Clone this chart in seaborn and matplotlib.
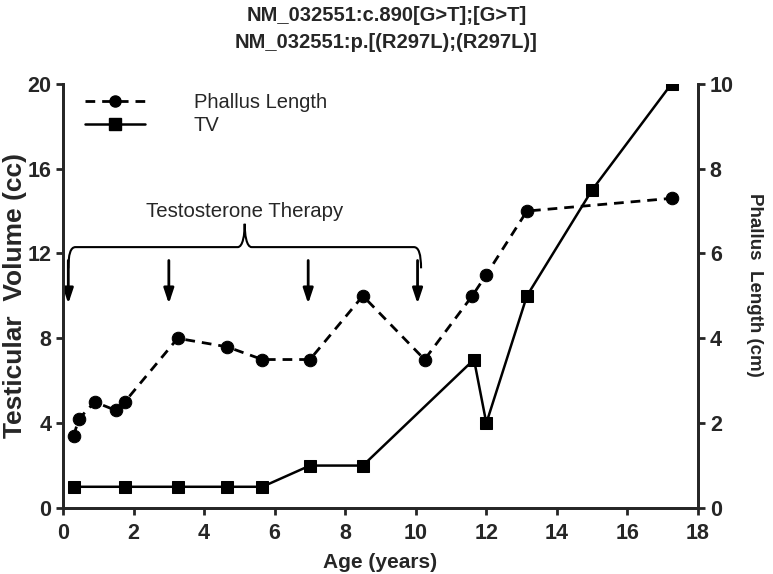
import matplotlib
matplotlib.use("Agg")
import matplotlib.pyplot as plt
import seaborn as sns
import pandas as pd
from matplotlib.path import Path
from matplotlib.patches import PathPatch
from matplotlib.lines import Line2D

# ------------------------------------------------------
# Data
# ------------------------------------------------------
phallus_age = [0.3, 0.45, 0.9, 1.5, 1.75, 3.25, 4.65, 5.65, 7.0, 8.5, 10.25, 11.6, 12.0, 13.15, 17.25]
phallus_cm = [1.7, 2.1, 2.5, 2.3, 2.5, 4.0, 3.8, 3.5, 3.5, 5.0, 3.5, 5.0, 5.5, 7.0, 7.3]

tv_age = [0.3, 1.75, 3.25, 4.65, 5.65, 7.0, 8.5, 11.65, 12.0, 13.15, 15.0, 17.25]
tv_cc = [1, 1, 1, 1, 1, 2, 2, 7, 4, 10, 15, 20]

therapy_ages = [0.15, 3.0, 6.95, 10.05]

title_lines = ["NM_032551:c.890[G>T];[G>T]", "NM_032551:p.[(R297L);(R297L)]"]

df_ph = pd.DataFrame({"age": phallus_age, "cm": phallus_cm})
df_tv = pd.DataFrame({"age": tv_age, "cc": tv_cc})

# ------------------------------------------------------
# Style
# ------------------------------------------------------
sns.set_style("ticks")
plt.rcParams["font.family"] = ["Liberation Sans", "DejaVu Sans"]
plt.rcParams["axes.linewidth"] = 2
plt.rcParams["xtick.major.width"] = 2
plt.rcParams["ytick.major.width"] = 2
plt.rcParams["xtick.major.size"] = 5
plt.rcParams["ytick.major.size"] = 5

fig = plt.figure(figsize=(7.73, 5.74), dpi=100)
ax = fig.add_axes([0.0815, 0.115, 0.8215, 0.739])
ax2 = ax.twinx()

# TV (left axis, solid squares)
sns.lineplot(data=df_tv, x="age", y="cc", ax=ax, color="black", marker="s",
             markersize=8.5, linewidth=1.8, markeredgecolor="black")
# Phallus length (right axis, dashed circles)
sns.lineplot(data=df_ph, x="age", y="cm", ax=ax2, color="black", marker="o",
             markersize=9, linewidth=2, linestyle=(0, (3.5, 2.5)), markeredgecolor="black")

ax.set_xlim(0, 18)
ax.set_ylim(0, 20)
ax2.set_ylim(0, 10)
ax.set_xticks(range(0, 19, 2))
ax.set_yticks(range(0, 21, 4))
ax2.set_yticks(range(0, 11, 2))

for a in (ax, ax2):
    a.spines["top"].set_visible(False)
    a.tick_params(labelsize=15.5)
    a.tick_params(axis="x", pad=6)
    for lbl in a.get_xticklabels() + a.get_yticklabels():
        lbl.set_fontweight("bold")

ax.set_xlabel("Age (years)", fontsize=15, fontweight="bold", labelpad=6)
ax.set_ylabel("Testicular  Volume (cc)", fontsize=19, fontweight="bold", labelpad=0)
ax2.set_ylabel("Phallus  Length (cm)", fontsize=13.5, fontweight="bold", rotation=270)
ax2.yaxis.set_label_coords(1.103, 0.525)

# Therapy arrows
for t in therapy_ages:
    ax.annotate("", xy=(t, 9.5), xytext=(t, 11.8),
                arrowprops=dict(arrowstyle="-|>,head_width=0.3,head_length=0.9",
                                color="black", lw=2))

# Brace over therapy period
y0, yb, yp = 11.3, 12.3, 13.4
xl, xm, xr = 0.15, 5.15, 10.15
verts = [
    (xl, y0), (xl, yb), (xl + 0.2, yb),
    (xm - 0.2, yb),
    (xm - 0.05, yb), (xm, yp - 0.5), (xm, yp),
    (xm, yp - 0.5), (xm + 0.05, yb), (xm + 0.2, yb),
    (xr - 0.2, yb),
    (xr, yb), (xr, y0),
]
codes = [Path.MOVETO, Path.CURVE3, Path.CURVE3,
         Path.LINETO,
         Path.CURVE4, Path.CURVE4, Path.CURVE4,
         Path.CURVE4, Path.CURVE4, Path.CURVE4,
         Path.LINETO,
         Path.CURVE3, Path.CURVE3]
ax.add_patch(PathPatch(Path(verts, codes), fill=False, lw=1.5, color="black"))
ax.text(xm, 14.0, "Testosterone Therapy", ha="center", va="center", fontsize=14.7)

# Legend
handles = [
    Line2D([], [], color="black", linestyle=(0, (3.5, 2.5)), lw=2, marker="o", markersize=8),
    Line2D([], [], color="black", linestyle="-", lw=1.8, marker="s", markersize=8),
]
ax.legend(handles, ["Phallus Length", "TV"], loc="upper left", frameon=False,
          fontsize=14.5, handlelength=3.0, handletextpad=2.4,
          bbox_to_anchor=(0.006, 1.022), labelspacing=0.2)
if ax2.get_legend():
    ax2.get_legend().remove()

fig.suptitle("\n".join(title_lines), fontsize=14.5, fontweight="bold", y=0.99, linespacing=1.55)

fig.savefig("out.png", dpi=100)
plt.close(fig)
